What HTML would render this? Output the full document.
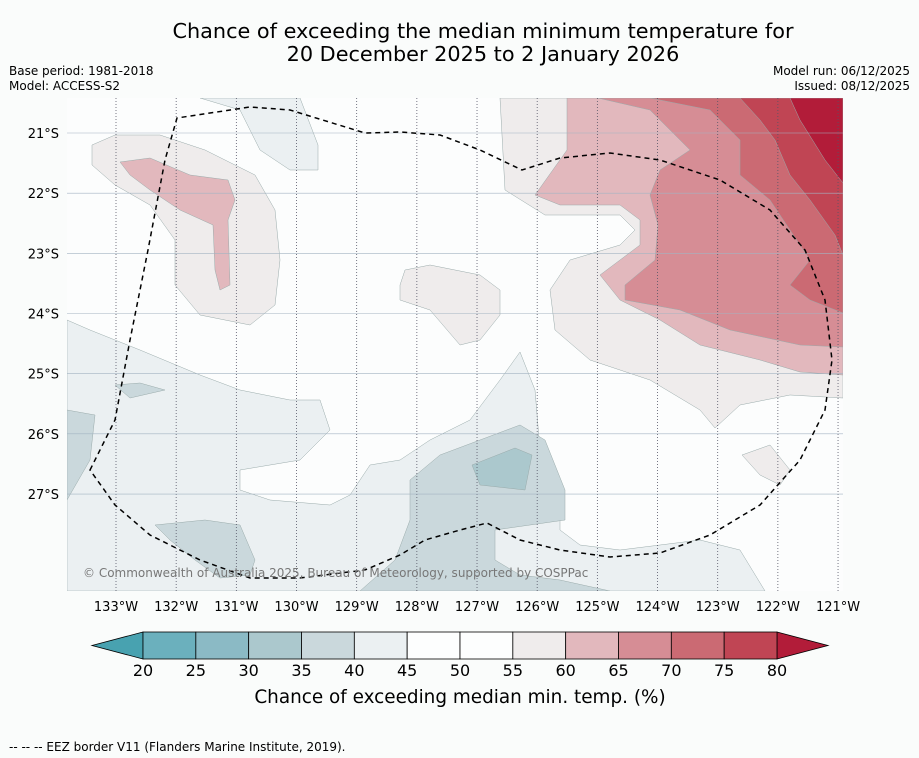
<!DOCTYPE html>
<html><head><meta charset="utf-8"><style>
html,body{margin:0;padding:0;background:#fafcfb;}
svg{display:block;font-family:"DejaVu Sans","Liberation Sans",sans-serif;}
</style></head><body>
<svg id="chart" width="919" height="758" viewBox="0 0 919 758">
<rect x="0" y="0" width="919" height="758" fill="#fafcfb"/>
<text x="483" y="38" font-size="20.8" text-anchor="middle" fill="#000">Chance of exceeding the median minimum temperature for</text>
<text x="483" y="61" font-size="20.8" text-anchor="middle" fill="#000">20 December 2025 to 2 January 2026</text>
<text x="9" y="75" font-size="12">Base period: 1981-2018</text>
<text x="9" y="90" font-size="12">Model: ACCESS-S2</text>
<text x="910" y="75" font-size="12" text-anchor="end">Model run: 06/12/2025</text>
<text x="910" y="90" font-size="12" text-anchor="end">Issued: 08/12/2025</text>

<defs><clipPath id="mapclip"><rect x="67" y="98" width="776" height="493"/></clipPath></defs>
<g clip-path="url(#mapclip)">
<rect x="67" y="98" width="776" height="493" fill="#fcfdfd"/>
<g stroke="#9aa" stroke-width="0.5">
<path fill="#ebf0f2" d="M200,98 L240,110 L260,150 L290,170 L318,170 L318,145 L300,98Z"/>
<path fill="#ebf0f2" d="M67,320 L90,330 L140,350 L200,375 L240,390 L290,400 L320,400 L330,430 L300,460 L270,465 L240,470 L240,490 L270,500 L330,505 L350,495 L370,465 L400,460 L430,440 L470,420 L500,380 L520,352 L535,390 L540,450 L560,480 L560,530 L580,545 L620,550 L700,540 L740,550 L765,591 L67,591Z"/>
<path fill="#cad8dc" d="M360,591 L395,560 L410,520 L410,480 L440,455 L480,440 L520,425 L545,440 L565,490 L565,520 L530,525 L495,530 L495,560 L520,575 L560,580 L610,591Z"/>
<path fill="#cad8dc" d="M155,525 L205,520 L240,525 L255,560 L250,575 L220,578 L195,560 L170,540Z"/>
<path fill="#cad8dc" d="M67,410 L95,415 L90,460 L67,500Z"/>
<path fill="#cad8dc" d="M115,385 L140,383 L165,390 L130,398Z"/>
<path fill="#abc8cd" d="M472,465 L515,448 L532,455 L525,490 L480,485Z"/>
<path fill="#efecec" d="M92,145 L115,135 L160,135 L205,150 L255,175 L275,210 L280,260 L275,305 L250,325 L200,315 L175,285 L175,240 L150,205 L115,185 L92,165Z"/>
<path fill="#e2b8bd" d="M120,162 L150,158 L190,175 L228,180 L235,200 L228,220 L230,285 L220,290 L215,270 L213,225 L180,210 L150,190 L130,175Z"/>
<path fill="#efecec" d="M405,270 L430,265 L480,275 L500,290 L500,315 L480,340 L460,345 L430,310 L400,300 L400,285Z"/>
<path fill="#efecec" d="M742,455 L770,445 L790,470 L780,485 L760,475Z"/>
<path fill="#efecec" d="M500,98 L505,190 L545,215 L620,215 L635,230 L620,245 L570,260 L550,290 L555,330 L590,360 L650,380 L700,410 L715,428 L740,405 L790,395 L843,398 L843,98Z"/>
<path fill="#e2b8bd" d="M567,98 L567,150 L535,195 L560,205 L620,205 L640,220 L640,245 L600,275 L620,300 L660,320 L700,345 L760,360 L800,372 L843,375 L843,98Z"/>
<path fill="#d68d95" d="M598,98 L650,110 L690,150 L660,170 L650,195 L658,225 L655,260 L625,285 L625,300 L680,310 L730,330 L800,345 L843,347 L843,98Z"/>
<path fill="#cb6a73" d="M650,98 L710,110 L740,140 L740,175 L770,200 L790,230 L810,260 L790,285 L810,300 L843,313 L843,98Z"/>
<path fill="#c04554" d="M740,98 L760,120 L775,140 L790,175 L810,200 L835,235 L843,255 L843,98Z"/>
<path fill="#b21c39" d="M790,98 L800,120 L825,160 L843,183 L843,98Z"/>
</g>
<g id="grid"></g>
<path d="M90,470 L115,420 L130,340 L148,250 L165,160 L177,118 L250,107 L290,110 L365,133 L400,132 L440,135 L480,150 L522,170 L560,158 L610,153 L660,160 L720,180 L770,210 L805,250 L825,300 L832,360 L825,410 L800,460 L760,505 L710,535 L660,553 L610,557 L560,550 L520,540 L487,523 L460,530 L425,540 L400,555 L365,570 L300,578 L250,578 L200,560 L150,535 L115,505 Z" fill="none" stroke="#000" stroke-width="1.5" stroke-dasharray="5,4"/>
<text x="83" y="577" font-size="12" fill="#777">© Commonwealth of Australia 2025, Bureau of Meteorology, supported by COSPPac</text>
</g>
<g id="axes"></g>
<g id="cbar"></g>
<text x="460" y="703" font-size="18.4" text-anchor="middle">Chance of exceeding median min. temp. (%)</text>
<text x="9" y="751" font-size="12">--  --  -- EEZ border V11 (Flanders Marine Institute, 2019).</text>
</svg>
<script>
const lonTicks = [133,132,131,130,129,128,127,126,125,124,123,122,121];
const latTicks = [21,22,23,24,25,26,27];
const levels = [20,25,30,35,40,45,50,55,60,65,70,75,80];
const levelColors = ["#6bb0bd","#8bbac5","#abc8cd","#cad8dc","#ebf0f2","#fdfefe","#fdfefe","#efecec","#e2b8bd","#d68d95","#cb6a73","#c04554"];
const underColor = "#48a2b0";
const overColor = "#b21c39";

const NS="http://www.w3.org/2000/svg";
function xLon(l){return 116+(133-l)*60.17;}
function yLat(l){return 133+(l-21)*60.17;}
function mk(tag,attrs,parent){const e=document.createElementNS(NS,tag);for(const k in attrs)e.setAttribute(k,attrs[k]);parent.appendChild(e);return e;}
const grid=document.getElementById('grid'),axes=document.getElementById('axes'),cbar=document.getElementById('cbar');
lonTicks.forEach(l=>{
  const x=xLon(l);
  const ln=mk('line',{x1:x,x2:x,y1:98,y2:591,stroke:'#556',"stroke-width":0.8,"stroke-dasharray":"1,2"},grid);
  
  
  const t=mk('text',{x:x,y:611,"font-size":13,"text-anchor":"middle"},axes);
  t.textContent=l+'°W';
  
  
});
latTicks.forEach(l=>{
  const y=yLat(l);
  const ln=mk('line',{x1:67,x2:843,y1:y,y2:y,stroke:'#a3b4c2',"stroke-width":0.6},grid);
  
  
  const t=mk('text',{x:59,y:y+5,"font-size":13,"text-anchor":"end"},axes);
  t.textContent=l+'°S';
  
  
});
const cx0=143,cx1=777,cy=632,ch=27;
function xLev(v){return cx0+(v-levels[0])/(levels[levels.length-1]-levels[0])*(cx1-cx0);}
const under=mk('polygon',{points:`${cx0},${cy} ${cx0},${cy+ch} 92,${cy+ch/2}`,fill:underColor,stroke:'#000',"stroke-width":0.8},cbar);


const over=mk('polygon',{points:`${cx1},${cy} ${cx1},${cy+ch} 828,${cy+ch/2}`,fill:overColor,stroke:'#000',"stroke-width":0.8},cbar);


levelColors.forEach((c,i)=>{
  const x=xLev(levels[i]);
  const r=mk('rect',{x:x,y:cy,width:xLev(levels[i+1])-x,height:ch,fill:c,stroke:'#000',"stroke-width":0.8},cbar);
  
  
});
levels.forEach(v=>{
  const t=mk('text',{x:xLev(v),y:676,"font-size":16,"text-anchor":"middle"},cbar);
  t.textContent=v;
  
  
});
</script>
</body></html>
